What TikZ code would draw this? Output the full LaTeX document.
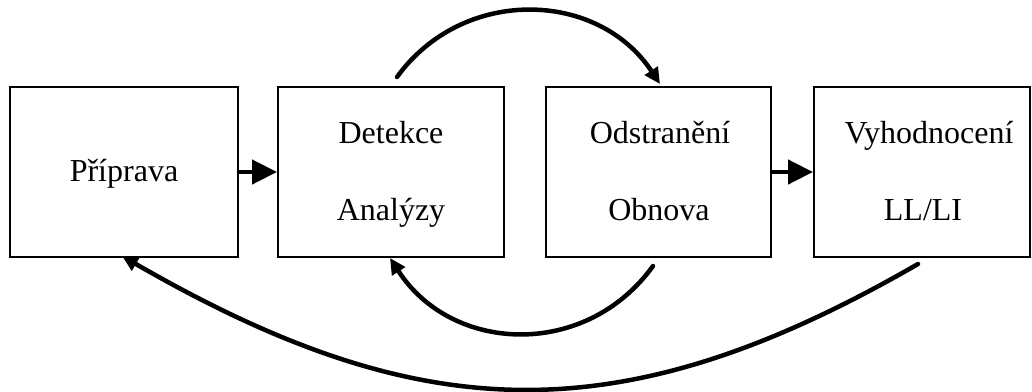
\documentclass[tikz,border=0pt]{standalone}
\usepackage{fontspec}
\setmainfont{Liberation Serif}
\usetikzlibrary{arrows.meta}
\begin{document}
\begin{tikzpicture}[x=1pt,y=-1pt,
  box/.style={draw, line width=2pt, minimum width=#1, minimum height=170pt, inner sep=0pt},
  lbl/.style={anchor=base, font=\fontsize{32}{38}\selectfont, inner sep=0pt},
  flow/.style={line width=4.5pt, line cap=round, -{Triangle[length=25pt,width=24pt]}},
  loopar/.style={line width=4.5pt, line cap=round, -{Triangle[length=16pt,width=15pt]}}]
\useasboundingbox (0,0) rectangle (1032,391);
\node[box=228pt] (b1) at (124,172) {};
\node[box=226pt] (b2) at (391,172) {};
\node[box=225pt] (b3) at (658.5,172) {};
\node[box=216pt] (b4) at (922,172) {};
\node[lbl] (t1) at (124,181) {Příprava};
\node[lbl] (t2a) at (391,143) {Detekce};
\node[lbl] (t2b) at (391,220) {Analýzy};
\node[lbl] (t3a) at (660,143) {Odstranění};
\node[lbl] (t3b) at (659,220) {Obnova};
\node[lbl] (t4a) at (929,143) {Vyhodnocení};
\node[lbl] (t4b) at (923,220) {LL/LI};
\draw[flow] (b1.east) -- (b2.west);
\draw[flow] (b3.east) -- (b4.west);
\draw[loopar] ([xshift=6pt,yshift=9pt]b2.north) .. controls +(66,-91) and +(-62,-94) .. ([xshift=1.5pt,yshift=2pt]b3.north);
\draw[loopar] ([xshift=-5.5pt,yshift=-8pt]b3.south) .. controls +(-67,93) and +(62,96) .. ([xshift=-1pt]b2.south);
\draw[loopar] ([xshift=-4pt,yshift=-6pt]b4.south) .. controls +(-298,172) and +(298,172) .. ([xshift=-2pt,yshift=2pt]b1.south);
\end{tikzpicture}
\end{document}
